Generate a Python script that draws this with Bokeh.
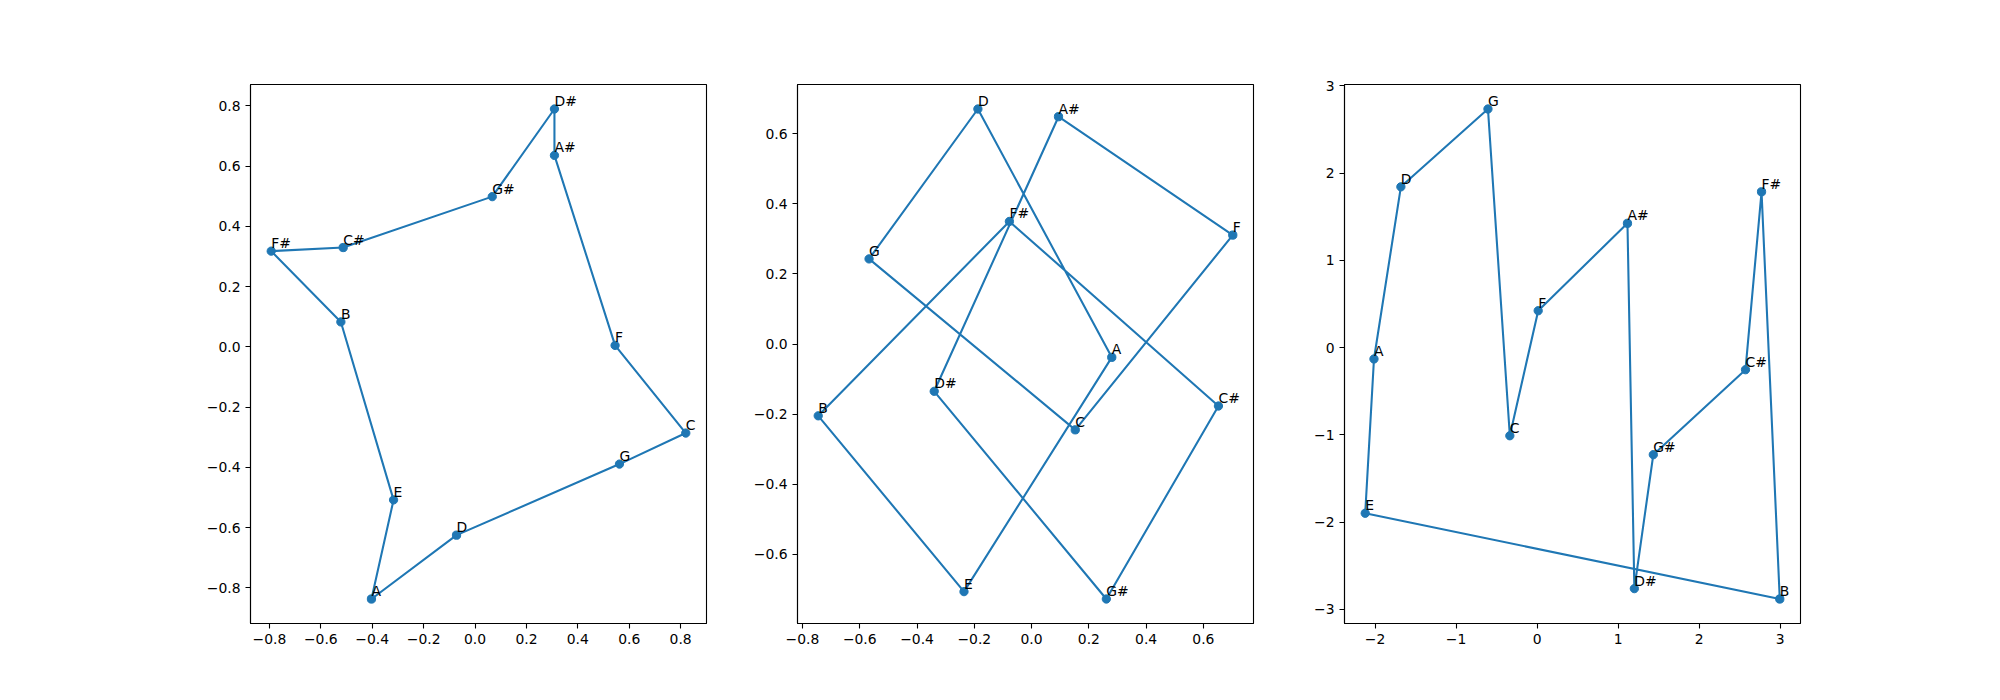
from bokeh.plotting import figure
from bokeh.layouts import row
from bokeh.models import ColumnDataSource, Range1d, FixedTicker, CustomJSTickFormatter
from bokeh.core.properties import value
from bokeh.embed import file_html
from bokeh.resources import INLINE

# Notes in circle-of-fifths order (the order the points are joined)
notes = ["C", "G", "D", "A", "E", "B", "F#", "C#", "G#", "D#", "A#", "F"]

# Panel 1
x1 = [0.820, 0.562, -0.072, -0.403, -0.317, -0.522, -0.793, -0.513, 0.067, 0.309, 0.309, 0.545]
y1 = [-0.286, -0.389, -0.625, -0.837, -0.508, 0.083, 0.318, 0.330, 0.499, 0.790, 0.636, 0.005]
xt1 = [-0.8, -0.6, -0.4, -0.2, 0.0, 0.2, 0.4, 0.6, 0.8]
yt1 = [-0.8, -0.6, -0.4, -0.2, 0.0, 0.2, 0.4, 0.6, 0.8]

# Panel 2
x2 = [0.1525, -0.5675, -0.1875, 0.280, -0.236, -0.745, -0.0775, 0.6525, 0.261, -0.340, 0.094, 0.7025]
y2 = [-0.245, 0.243, 0.671, -0.038, -0.707, -0.205, 0.350, -0.177, -0.728, -0.135, 0.649, 0.311]
xt2 = [-0.8, -0.6, -0.4, -0.2, 0.0, 0.2, 0.4, 0.6]
yt2 = [-0.6, -0.4, -0.2, 0.0, 0.2, 0.4, 0.6]

# Panel 3
x3 = [-0.336, -0.606, -1.681, -2.013, -2.121, 2.996, 2.771, 2.573, 1.435, 1.201, 1.116, 0.014]
y3 = [-1.011, 2.734, 1.842, -0.131, -1.899, -2.882, 1.785, -0.254, -1.228, -2.763, 1.424, 0.422]
xt3 = [-2, -1, 0, 1, 2, 3]
yt3 = [-3, -2, -1, 0, 1, 2, 3]

BLUE = "#1f77b4"
FONT = "DejaVu Sans"
FS = "13.9px"


def padded(vals):
    lo, hi = min(vals), max(vals)
    span = hi - lo
    return Range1d(lo - 0.05 * span, hi + 0.05 * span)


def fmt(decimals):
    return CustomJSTickFormatter(
        code=f"return tick.toFixed({decimals}).replace('-', '\\u2212');")


def panel(xs, ys, xticks, yticks, decimals, left, right):
    p = figure(frame_width=456, frame_height=539,
               min_border_left=left, min_border_right=right,
               min_border_top=84, min_border_bottom=60,
               x_range=padded(xs), y_range=padded(ys),
               output_backend="svg", toolbar_location=None,
               background_fill_color="white", border_fill_color="white")
    p.grid.visible = False
    p.outline_line_color = "black"
    p.outline_line_width = 1.1
    p.outline_line_alpha = 1.0
    for ax, ticks in ((p.xaxis[0], xticks), (p.yaxis[0], yticks)):
        ax.ticker = FixedTicker(ticks=ticks)
        ax.formatter = fmt(decimals)
        ax.minor_tick_line_color = None
        ax.major_tick_out = 5
        ax.major_tick_in = 0
        ax.major_tick_line_color = "black"
        ax.major_tick_line_width = 1.1
        ax.axis_line_color = "black"
        ax.axis_line_width = 1.1
        ax.major_label_text_font = FONT
        ax.major_label_text_font_size = FS
        ax.major_label_text_color = "black"
        ax.major_label_standoff = 5
    src = ColumnDataSource(dict(x=xs, y=ys, t=notes))
    p.line(xs + xs[:1], ys + ys[:1], line_color=BLUE, line_width=2.08)
    p.scatter("x", "y", source=src, size=8.3, fill_color=BLUE, line_color=BLUE)
    p.text("x", "y", text="t", source=src, text_font=value(FONT),
           text_font_size=FS, text_color="black",
           text_align="left", text_baseline="bottom")
    return p


p1 = panel(x1, y1, xt1, yt1, 1, 250, 44)
p2 = panel(x2, y2, xt2, yt2, 1, 47, 44)
p3 = panel(x3, y3, xt3, yt3, 0, 47, 100)

p = row(p1, p2, p3)
open("out.html", "w").write(file_html(p, INLINE))
